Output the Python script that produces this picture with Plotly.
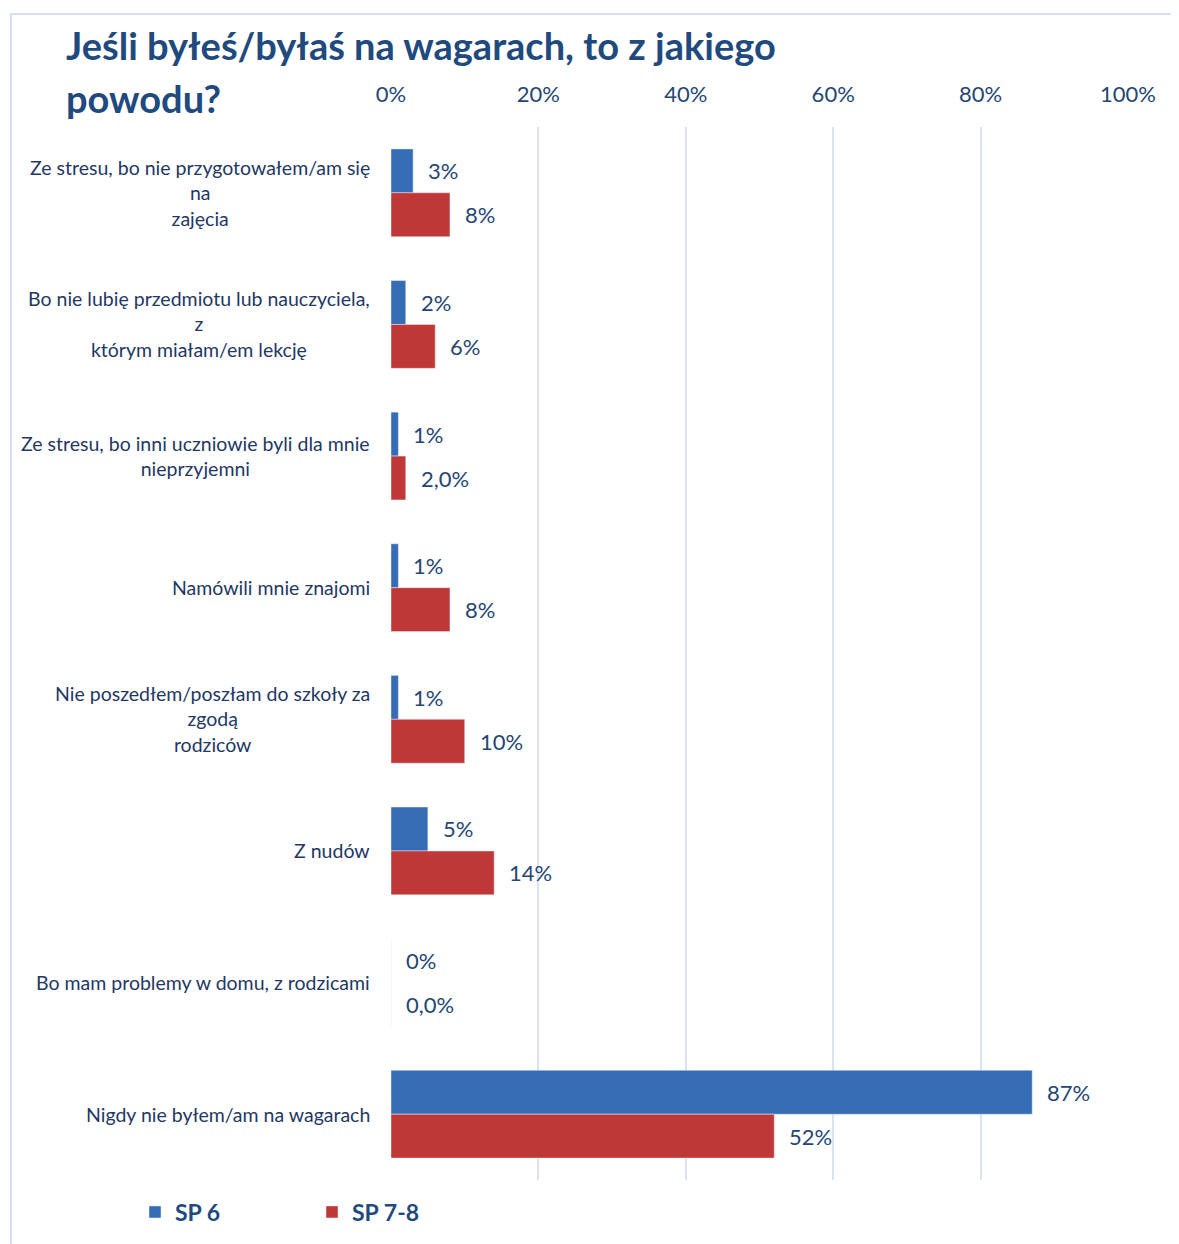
import plotly.graph_objects as go

categories = [
    "Ze stresu, bo nie przygotowałem/am się<br>na<br>zajęcia",
    "Bo nie lubię przedmiotu lub nauczyciela,<br>z<br>którym miałam/em lekcję",
    "Ze stresu, bo inni uczniowie byli dla mnie<br>nieprzyjemni",
    "Namówili mnie znajomi",
    "Nie poszedłem/poszłam do szkoły za<br>zgodą<br>rodziców",
    "Z nudów",
    "Bo mam problemy w domu, z rodzicami",
    "Nigdy nie byłem/am na wagarach",
]
sp6_values = [3, 2, 1, 1, 1, 5, 0, 87]
sp78_values = [8, 6, 2, 8, 10, 14, 0, 52]
sp6_labels = ["3%", "2%", "1%", "1%", "1%", "5%", "0%", "87%"]
sp78_labels = ["8%", "6%", "2,0%", "8%", "10%", "14%", "0,0%", "52%"]
x_ticks = [0, 20, 40, 60, 80, 100]
x_tick_labels = ["0%", "20%", "40%", "60%", "80%", "100%"]

title_line1 = "Jeśli byłeś/byłaś na wagarach, to z jakiego"
title_line2 = "powodu?"

# page offset (browser body margin)
OFF = 8
W, H = 1179 - OFF, 1244 - OFF
# plot area in screen pixels: x 391..1128, y 127..1181
SX0, SX1, SY0, SY1 = 391, 1128, 127, 1181
L = SX0 - OFF
R = W - (SX1 - OFF)
T = SY0 - OFF
B = H - (SY1 - OFF)
pw, ph = SX1 - SX0, SY1 - SY0

def px_x(p):
    return (p - SX0) / pw

def px_y(p):
    return (SY1 - p) / ph

navy = "#1F4A7E"
text_col = "#264673"
font_fam = "Lato, 'Open Sans', sans-serif"

fig = go.Figure()
fig.add_trace(go.Bar(
    y=categories, x=sp6_values, name="SP 6", orientation="h",
    marker=dict(color="#356CB5"),
))
fig.add_trace(go.Bar(
    y=categories, x=sp78_values, name="SP 7-8", orientation="h",
    marker=dict(color="#BF3736"),
))

annotations = []
for cat, v, lab in zip(categories, sp6_values, sp6_labels):
    annotations.append(dict(x=v, y=cat, xref="x", yref="y", text=lab,
                            showarrow=False, xanchor="left", yanchor="middle",
                            xshift=13, yshift=22,
                            font=dict(size=22, color=text_col, family=font_fam)))
for cat, v, lab in zip(categories, sp78_values, sp78_labels):
    annotations.append(dict(x=v, y=cat, xref="x", yref="y", text=lab,
                            showarrow=False, xanchor="left", yanchor="middle",
                            xshift=13, yshift=-22,
                            font=dict(size=22, color=text_col, family=font_fam)))
for cat in categories:
    annotations.append(dict(x=0, y=cat, xref="paper", yref="y", text=cat,
                            showarrow=False, xanchor="right", yanchor="middle",
                            align="center", xshift=-19,
                            font=dict(size=19.5, color="#1F3864", family=font_fam)))
annotations.append(dict(x=px_x(64), y=px_y(45), xref="paper", yref="paper",
                        text="<b>" + title_line1 + "</b>", showarrow=False,
                        xanchor="left", yanchor="middle",
                        font=dict(size=38, color=navy, family=font_fam)))
annotations.append(dict(x=px_x(64), y=px_y(98), xref="paper", yref="paper",
                        text="<b>" + title_line2 + "</b>", showarrow=False,
                        xanchor="left", yanchor="middle",
                        font=dict(size=38, color=navy, family=font_fam)))

fig.update_layout(
    width=W, height=H,
    margin=dict(l=L, r=R, t=T, b=B),
    paper_bgcolor="white", plot_bgcolor="white",
    barmode="group", bargap=0.333, bargroupgap=0,
    font=dict(family=font_fam, color=text_col),
    annotations=annotations,
    showlegend=True,
    legend=dict(orientation="h", x=px_x(135), y=px_y(1212),
                xanchor="left", yanchor="middle",
                entrywidth=132, entrywidthmode="pixels",
                font=dict(size=23, color=navy, family=font_fam, weight="bold"),
                traceorder="normal"),
    shapes=[dict(type="rect", xref="paper", yref="paper",
                 x0=px_x(11), x1=px_x(1200), y0=px_y(14), y1=px_y(1260),
                 line=dict(color="#D5E2F2", width=2), layer="below")],
)
fig.update_xaxes(
    side="top", range=[0, 100], tickmode="array",
    tickvals=x_ticks, ticktext=x_tick_labels,
    showgrid=True, gridcolor="#D9E4F3", gridwidth=2,
    zeroline=False, showline=False, ticks="",
    ticklabelstandoff=20,
    tickfont=dict(size=22, color=text_col, family=font_fam),
)
fig.update_yaxes(
    autorange="reversed", showticklabels=False, showgrid=False,
    zeroline=False, showline=False, ticks="",
)

fig.write_html("out.html")
